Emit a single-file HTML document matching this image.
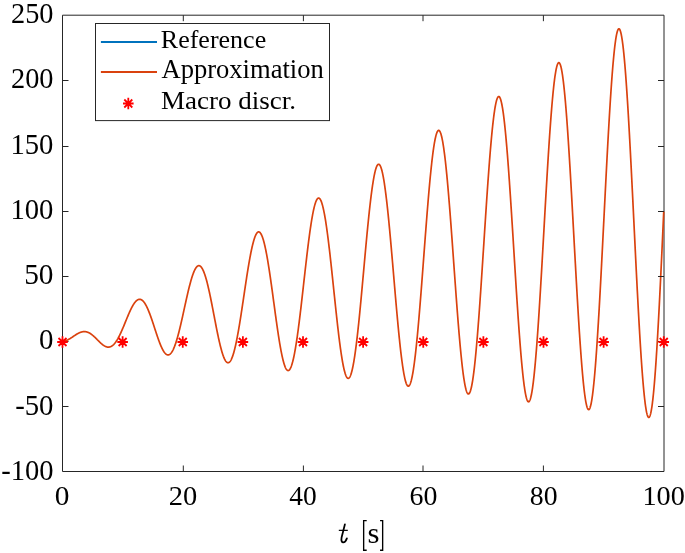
<!DOCTYPE html><html><head><meta charset="utf-8"><style>html,body{margin:0;padding:0;background:#fff;overflow:hidden}svg{display:block;will-change:transform}text{font-family:"Liberation Serif",serif;fill:#000}</style></head><body>
<svg width="685" height="553" viewBox="0 0 685 553">
<rect width="685" height="553" fill="#fff"/>
<path d="M62.5,15.2H664.0V471.5H62.5Z" stroke="#262626" stroke-width="1.00" fill="none"/>
<path d="M62.50,341.71 L62.70,341.67 L62.90,341.64 L63.10,341.60 L63.30,341.55 L63.50,341.51 L63.70,341.46 L63.90,341.41 L64.10,341.35 L64.30,341.29 L64.50,341.23 L64.70,341.17 L64.91,341.10 L65.11,341.04 L65.31,340.96 L65.51,340.89 L65.71,340.81 L65.91,340.73 L66.11,340.65 L66.31,340.56 L66.51,340.48 L66.71,340.39 L66.91,340.29 L67.11,340.20 L67.31,340.10 L67.51,340.00 L67.71,339.90 L67.91,339.80 L68.11,339.69 L68.31,339.58 L68.51,339.47 L68.71,339.36 L68.91,339.25 L69.11,339.13 L69.31,339.01 L69.51,338.89 L69.72,338.77 L69.92,338.65 L70.12,338.53 L70.32,338.40 L70.52,338.27 L70.72,338.15 L70.92,338.02 L71.12,337.89 L71.32,337.76 L71.52,337.63 L71.72,337.49 L71.92,337.36 L72.12,337.23 L72.32,337.09 L72.52,336.96 L72.72,336.82 L72.92,336.69 L73.12,336.55 L73.32,336.42 L73.52,336.28 L73.72,336.15 L73.92,336.01 L74.12,335.88 L74.32,335.74 L74.53,335.61 L74.73,335.48 L74.93,335.34 L75.13,335.21 L75.33,335.08 L75.53,334.95 L75.73,334.82 L75.93,334.70 L76.13,334.57 L76.33,334.45 L76.53,334.32 L76.73,334.20 L76.93,334.08 L77.13,333.97 L77.33,333.85 L77.53,333.74 L77.73,333.62 L77.93,333.51 L78.13,333.41 L78.33,333.30 L78.53,333.20 L78.73,333.10 L78.93,333.00 L79.13,332.91 L79.34,332.81 L79.54,332.72 L79.74,332.64 L79.94,332.56 L80.14,332.48 L80.34,332.40 L80.54,332.32 L80.74,332.25 L80.94,332.19 L81.14,332.12 L81.34,332.06 L81.54,332.01 L81.74,331.95 L81.94,331.90 L82.14,331.86 L82.34,331.82 L82.54,331.78 L82.74,331.74 L82.94,331.71 L83.14,331.69 L83.34,331.67 L83.54,331.65 L83.74,331.63 L83.94,331.62 L84.14,331.62 L84.35,331.62 L84.55,331.62 L84.75,331.63 L84.95,331.64 L85.15,331.65 L85.35,331.67 L85.55,331.70 L85.75,331.73 L85.95,331.76 L86.15,331.80 L86.35,331.84 L86.55,331.89 L86.75,331.94 L86.95,331.99 L87.15,332.05 L87.35,332.12 L87.55,332.19 L87.75,332.26 L87.95,332.33 L88.15,332.42 L88.35,332.50 L88.55,332.59 L88.75,332.68 L88.95,332.78 L89.16,332.88 L89.36,332.99 L89.56,333.10 L89.76,333.21 L89.96,333.33 L90.16,333.45 L90.36,333.58 L90.56,333.71 L90.76,333.84 L90.96,333.98 L91.16,334.12 L91.36,334.26 L91.56,334.41 L91.76,334.56 L91.96,334.72 L92.16,334.87 L92.36,335.03 L92.56,335.20 L92.76,335.36 L92.96,335.53 L93.16,335.70 L93.36,335.88 L93.56,336.05 L93.77,336.23 L93.97,336.41 L94.17,336.60 L94.37,336.78 L94.57,336.97 L94.77,337.16 L94.97,337.35 L95.17,337.54 L95.37,337.74 L95.57,337.93 L95.77,338.13 L95.97,338.33 L96.17,338.53 L96.37,338.73 L96.57,338.93 L96.77,339.13 L96.97,339.33 L97.17,339.54 L97.37,339.74 L97.57,339.94 L97.77,340.14 L97.97,340.35 L98.17,340.55 L98.37,340.75 L98.58,340.95 L98.78,341.15 L98.98,341.35 L99.18,341.55 L99.38,341.75 L99.58,341.95 L99.78,342.14 L99.98,342.33 L100.18,342.52 L100.38,342.71 L100.58,342.90 L100.78,343.09 L100.98,343.27 L101.18,343.45 L101.38,343.63 L101.58,343.80 L101.78,343.97 L101.98,344.14 L102.18,344.31 L102.38,344.47 L102.58,344.63 L102.78,344.79 L102.98,344.94 L103.18,345.08 L103.38,345.23 L103.59,345.37 L103.79,345.50 L103.99,345.63 L104.19,345.76 L104.39,345.88 L104.59,346.00 L104.79,346.11 L104.99,346.21 L105.19,346.32 L105.39,346.41 L105.59,346.50 L105.79,346.59 L105.99,346.66 L106.19,346.74 L106.39,346.80 L106.59,346.87 L106.79,346.92 L106.99,346.97 L107.19,347.01 L107.39,347.05 L107.59,347.08 L107.79,347.10 L107.99,347.12 L108.19,347.13 L108.40,347.13 L108.60,347.12 L108.80,347.11 L109.00,347.09 L109.20,347.07 L109.40,347.03 L109.60,346.99 L109.80,346.94 L110.00,346.89 L110.20,346.82 L110.40,346.75 L110.60,346.68 L110.80,346.59 L111.00,346.50 L111.20,346.40 L111.40,346.29 L111.60,346.17 L111.80,346.04 L112.00,345.91 L112.20,345.77 L112.40,345.62 L112.60,345.47 L112.80,345.30 L113.00,345.13 L113.21,344.95 L113.41,344.76 L113.61,344.57 L113.81,344.37 L114.01,344.16 L114.21,343.94 L114.41,343.71 L114.61,343.48 L114.81,343.23 L115.01,342.98 L115.21,342.73 L115.41,342.46 L115.61,342.19 L115.81,341.91 L116.01,341.62 L116.21,341.33 L116.41,341.03 L116.61,340.72 L116.81,340.40 L117.01,340.08 L117.21,339.75 L117.41,339.42 L117.61,339.07 L117.81,338.72 L118.02,338.37 L118.22,338.01 L118.42,337.64 L118.62,337.26 L118.82,336.88 L119.02,336.49 L119.22,336.10 L119.42,335.70 L119.62,335.30 L119.82,334.89 L120.02,334.48 L120.22,334.06 L120.42,333.63 L120.62,333.20 L120.82,332.77 L121.02,332.33 L121.22,331.89 L121.42,331.44 L121.62,330.99 L121.82,330.53 L122.02,330.08 L122.22,329.61 L122.42,329.15 L122.62,328.68 L122.83,328.21 L123.03,327.74 L123.23,327.26 L123.43,326.78 L123.63,326.30 L123.83,325.82 L124.03,325.33 L124.23,324.85 L124.43,324.36 L124.63,323.87 L124.83,323.38 L125.03,322.89 L125.23,322.40 L125.43,321.91 L125.63,321.42 L125.83,320.93 L126.03,320.44 L126.23,319.95 L126.43,319.46 L126.63,318.97 L126.83,318.48 L127.03,318.00 L127.23,317.51 L127.44,317.03 L127.64,316.55 L127.84,316.07 L128.04,315.60 L128.24,315.13 L128.44,314.66 L128.64,314.19 L128.84,313.73 L129.04,313.27 L129.24,312.81 L129.44,312.36 L129.64,311.92 L129.84,311.47 L130.04,311.04 L130.24,310.60 L130.44,310.18 L130.64,309.75 L130.84,309.34 L131.04,308.93 L131.24,308.52 L131.44,308.12 L131.64,307.73 L131.84,307.35 L132.04,306.97 L132.25,306.60 L132.45,306.23 L132.65,305.88 L132.85,305.53 L133.05,305.19 L133.25,304.85 L133.45,304.53 L133.65,304.21 L133.85,303.90 L134.05,303.60 L134.25,303.31 L134.45,303.03 L134.65,302.76 L134.85,302.49 L135.05,302.24 L135.25,301.99 L135.45,301.76 L135.65,301.53 L135.85,301.32 L136.05,301.12 L136.25,300.92 L136.45,300.74 L136.65,300.56 L136.85,300.40 L137.06,300.25 L137.26,300.11 L137.46,299.98 L137.66,299.86 L137.86,299.75 L138.06,299.66 L138.26,299.57 L138.46,299.50 L138.66,299.44 L138.86,299.39 L139.06,299.35 L139.26,299.32 L139.46,299.31 L139.66,299.31 L139.86,299.32 L140.06,299.34 L140.26,299.37 L140.46,299.41 L140.66,299.47 L140.86,299.54 L141.06,299.62 L141.26,299.71 L141.46,299.82 L141.66,299.93 L141.87,300.06 L142.07,300.20 L142.27,300.36 L142.47,300.52 L142.67,300.70 L142.87,300.88 L143.07,301.08 L143.27,301.30 L143.47,301.52 L143.67,301.75 L143.87,302.00 L144.07,302.26 L144.27,302.53 L144.47,302.81 L144.67,303.10 L144.87,303.40 L145.07,303.72 L145.27,304.04 L145.47,304.38 L145.67,304.72 L145.87,305.08 L146.07,305.45 L146.27,305.82 L146.47,306.21 L146.68,306.61 L146.88,307.01 L147.08,307.43 L147.28,307.86 L147.48,308.29 L147.68,308.73 L147.88,309.19 L148.08,309.65 L148.28,310.12 L148.48,310.60 L148.68,311.08 L148.88,311.58 L149.08,312.08 L149.28,312.59 L149.48,313.11 L149.68,313.63 L149.88,314.16 L150.08,314.70 L150.28,315.24 L150.48,315.79 L150.68,316.35 L150.88,316.91 L151.08,317.47 L151.28,318.05 L151.49,318.62 L151.69,319.20 L151.89,319.79 L152.09,320.38 L152.29,320.97 L152.49,321.57 L152.69,322.17 L152.89,322.77 L153.09,323.37 L153.29,323.98 L153.49,324.59 L153.69,325.20 L153.89,325.82 L154.09,326.43 L154.29,327.04 L154.49,327.66 L154.69,328.27 L154.89,328.89 L155.09,329.51 L155.29,330.12 L155.49,330.73 L155.69,331.35 L155.89,331.96 L156.09,332.57 L156.30,333.17 L156.50,333.78 L156.70,334.38 L156.90,334.98 L157.10,335.57 L157.30,336.17 L157.50,336.75 L157.70,337.34 L157.90,337.91 L158.10,338.49 L158.30,339.06 L158.50,339.62 L158.70,340.18 L158.90,340.73 L159.10,341.27 L159.30,341.81 L159.50,342.34 L159.70,342.87 L159.90,343.38 L160.10,343.89 L160.30,344.39 L160.50,344.88 L160.70,345.36 L160.90,345.84 L161.10,346.30 L161.31,346.76 L161.51,347.20 L161.71,347.64 L161.91,348.06 L162.11,348.48 L162.31,348.88 L162.51,349.27 L162.71,349.65 L162.91,350.02 L163.11,350.38 L163.31,350.73 L163.51,351.06 L163.71,351.38 L163.91,351.69 L164.11,351.99 L164.31,352.27 L164.51,352.54 L164.71,352.79 L164.91,353.04 L165.11,353.26 L165.31,353.48 L165.51,353.68 L165.71,353.86 L165.91,354.03 L166.12,354.19 L166.32,354.33 L166.52,354.46 L166.72,354.57 L166.92,354.66 L167.12,354.75 L167.32,354.81 L167.52,354.86 L167.72,354.89 L167.92,354.91 L168.12,354.91 L168.32,354.90 L168.52,354.87 L168.72,354.83 L168.92,354.76 L169.12,354.69 L169.32,354.59 L169.52,354.48 L169.72,354.35 L169.92,354.21 L170.12,354.05 L170.32,353.87 L170.52,353.68 L170.73,353.47 L170.93,353.25 L171.13,353.01 L171.33,352.75 L171.53,352.47 L171.73,352.18 L171.93,351.88 L172.13,351.56 L172.33,351.22 L172.53,350.86 L172.73,350.49 L172.93,350.11 L173.13,349.70 L173.33,349.29 L173.53,348.85 L173.73,348.41 L173.93,347.94 L174.13,347.46 L174.33,346.97 L174.53,346.46 L174.73,345.94 L174.93,345.40 L175.13,344.85 L175.33,344.28 L175.54,343.70 L175.74,343.11 L175.94,342.50 L176.14,341.88 L176.34,341.25 L176.54,340.60 L176.74,339.94 L176.94,339.27 L177.14,338.59 L177.34,337.89 L177.54,337.19 L177.74,336.47 L177.94,335.74 L178.14,335.00 L178.34,334.25 L178.54,333.48 L178.74,332.71 L178.94,331.93 L179.14,331.14 L179.34,330.34 L179.54,329.53 L179.74,328.71 L179.94,327.89 L180.14,327.05 L180.35,326.21 L180.55,325.36 L180.75,324.51 L180.95,323.65 L181.15,322.78 L181.35,321.90 L181.55,321.02 L181.75,320.14 L181.95,319.25 L182.15,318.36 L182.35,317.46 L182.55,316.56 L182.75,315.65 L182.95,314.74 L183.15,313.83 L183.35,312.92 L183.55,312.01 L183.75,311.09 L183.95,310.18 L184.15,309.26 L184.35,308.34 L184.55,307.42 L184.75,306.51 L184.95,305.59 L185.16,304.68 L185.36,303.77 L185.56,302.86 L185.76,301.95 L185.96,301.04 L186.16,300.14 L186.36,299.24 L186.56,298.35 L186.76,297.46 L186.96,296.58 L187.16,295.70 L187.36,294.83 L187.56,293.96 L187.76,293.10 L187.96,292.25 L188.16,291.40 L188.36,290.56 L188.56,289.73 L188.76,288.91 L188.96,288.10 L189.16,287.29 L189.36,286.50 L189.56,285.71 L189.76,284.94 L189.97,284.18 L190.17,283.42 L190.37,282.68 L190.57,281.95 L190.77,281.23 L190.97,280.53 L191.17,279.84 L191.37,279.16 L191.57,278.49 L191.77,277.84 L191.97,277.20 L192.17,276.58 L192.37,275.97 L192.57,275.37 L192.77,274.79 L192.97,274.23 L193.17,273.68 L193.37,273.15 L193.57,272.64 L193.77,272.14 L193.97,271.66 L194.17,271.19 L194.37,270.74 L194.57,270.31 L194.78,269.90 L194.98,269.51 L195.18,269.13 L195.38,268.77 L195.58,268.44 L195.78,268.12 L195.98,267.81 L196.18,267.53 L196.38,267.27 L196.58,267.03 L196.78,266.80 L196.98,266.60 L197.18,266.42 L197.38,266.25 L197.58,266.11 L197.78,265.99 L197.98,265.88 L198.18,265.80 L198.38,265.74 L198.58,265.70 L198.78,265.68 L198.98,265.68 L199.18,265.70 L199.38,265.74 L199.59,265.80 L199.79,265.89 L199.99,265.99 L200.19,266.12 L200.39,266.26 L200.59,266.43 L200.79,266.62 L200.99,266.82 L201.19,267.05 L201.39,267.30 L201.59,267.57 L201.79,267.86 L201.99,268.17 L202.19,268.50 L202.39,268.85 L202.59,269.22 L202.79,269.61 L202.99,270.03 L203.19,270.46 L203.39,270.90 L203.59,271.37 L203.79,271.86 L203.99,272.37 L204.19,272.89 L204.40,273.44 L204.60,274.00 L204.80,274.58 L205.00,275.18 L205.20,275.79 L205.40,276.43 L205.60,277.08 L205.80,277.75 L206.00,278.43 L206.20,279.13 L206.40,279.85 L206.60,280.58 L206.80,281.33 L207.00,282.09 L207.20,282.86 L207.40,283.66 L207.60,284.46 L207.80,285.28 L208.00,286.12 L208.20,286.96 L208.40,287.82 L208.60,288.69 L208.80,289.58 L209.00,290.47 L209.20,291.38 L209.41,292.29 L209.61,293.22 L209.81,294.16 L210.01,295.11 L210.21,296.06 L210.41,297.03 L210.61,298.00 L210.81,298.98 L211.01,299.97 L211.21,300.97 L211.41,301.97 L211.61,302.98 L211.81,304.00 L212.01,305.02 L212.21,306.04 L212.41,307.07 L212.61,308.10 L212.81,309.14 L213.01,310.18 L213.21,311.22 L213.41,312.26 L213.61,313.31 L213.81,314.35 L214.01,315.40 L214.22,316.45 L214.42,317.49 L214.62,318.54 L214.82,319.58 L215.02,320.62 L215.22,321.66 L215.42,322.70 L215.62,323.73 L215.82,324.76 L216.02,325.78 L216.22,326.80 L216.42,327.82 L216.62,328.83 L216.82,329.83 L217.02,330.83 L217.22,331.81 L217.42,332.79 L217.62,333.77 L217.82,334.73 L218.02,335.68 L218.22,336.63 L218.42,337.56 L218.62,338.49 L218.83,339.40 L219.03,340.30 L219.23,341.19 L219.43,342.07 L219.63,342.93 L219.83,343.79 L220.03,344.62 L220.23,345.45 L220.43,346.25 L220.63,347.05 L220.83,347.83 L221.03,348.59 L221.23,349.34 L221.43,350.07 L221.63,350.78 L221.83,351.47 L222.03,352.15 L222.23,352.81 L222.43,353.45 L222.63,354.08 L222.83,354.68 L223.03,355.26 L223.23,355.83 L223.43,356.37 L223.64,356.89 L223.84,357.40 L224.04,357.88 L224.24,358.34 L224.44,358.78 L224.64,359.20 L224.84,359.59 L225.04,359.96 L225.24,360.31 L225.44,360.64 L225.64,360.94 L225.84,361.22 L226.04,361.48 L226.24,361.71 L226.44,361.92 L226.64,362.11 L226.84,362.27 L227.04,362.41 L227.24,362.52 L227.44,362.61 L227.64,362.67 L227.84,362.71 L228.04,362.73 L228.24,362.71 L228.45,362.68 L228.65,362.62 L228.85,362.53 L229.05,362.42 L229.25,362.28 L229.45,362.12 L229.65,361.93 L229.85,361.71 L230.05,361.48 L230.25,361.21 L230.45,360.92 L230.65,360.61 L230.85,360.27 L231.05,359.91 L231.25,359.52 L231.45,359.10 L231.65,358.66 L231.85,358.20 L232.05,357.71 L232.25,357.20 L232.45,356.66 L232.65,356.10 L232.85,355.52 L233.05,354.91 L233.25,354.28 L233.46,353.62 L233.66,352.94 L233.86,352.24 L234.06,351.52 L234.26,350.77 L234.46,350.00 L234.66,349.21 L234.86,348.40 L235.06,347.57 L235.26,346.71 L235.46,345.84 L235.66,344.95 L235.86,344.03 L236.06,343.10 L236.26,342.14 L236.46,341.17 L236.66,340.18 L236.86,339.17 L237.06,338.14 L237.26,337.10 L237.46,336.03 L237.66,334.96 L237.86,333.86 L238.06,332.75 L238.27,331.63 L238.47,330.49 L238.67,329.33 L238.87,328.16 L239.07,326.98 L239.27,325.78 L239.47,324.58 L239.67,323.36 L239.87,322.13 L240.07,320.88 L240.27,319.63 L240.47,318.37 L240.67,317.09 L240.87,315.81 L241.07,314.52 L241.27,313.23 L241.47,311.92 L241.67,310.61 L241.87,309.29 L242.07,307.97 L242.27,306.64 L242.47,305.30 L242.67,303.96 L242.88,302.62 L243.08,301.28 L243.28,299.93 L243.48,298.58 L243.68,297.24 L243.88,295.89 L244.08,294.53 L244.28,293.19 L244.48,291.84 L244.68,290.49 L244.88,289.15 L245.08,287.80 L245.28,286.47 L245.48,285.13 L245.68,283.80 L245.88,282.48 L246.08,281.16 L246.28,279.85 L246.48,278.54 L246.68,277.24 L246.88,275.96 L247.08,274.67 L247.28,273.40 L247.48,272.14 L247.69,270.89 L247.89,269.65 L248.09,268.42 L248.29,267.20 L248.49,266.00 L248.69,264.81 L248.89,263.63 L249.09,262.46 L249.29,261.32 L249.49,260.18 L249.69,259.06 L249.89,257.96 L250.09,256.88 L250.29,255.81 L250.49,254.76 L250.69,253.73 L250.89,252.71 L251.09,251.72 L251.29,250.75 L251.49,249.79 L251.69,248.86 L251.89,247.95 L252.09,247.06 L252.29,246.19 L252.50,245.34 L252.70,244.51 L252.90,243.71 L253.10,242.94 L253.30,242.18 L253.50,241.45 L253.70,240.75 L253.90,240.07 L254.10,239.41 L254.30,238.78 L254.50,238.18 L254.70,237.60 L254.90,237.05 L255.10,236.52 L255.30,236.03 L255.50,235.55 L255.70,235.11 L255.90,234.70 L256.10,234.31 L256.30,233.95 L256.50,233.62 L256.70,233.32 L256.90,233.04 L257.10,232.80 L257.31,232.58 L257.51,232.40 L257.71,232.24 L257.91,232.11 L258.11,232.01 L258.31,231.95 L258.51,231.91 L258.71,231.90 L258.91,231.92 L259.11,231.97 L259.31,232.05 L259.51,232.16 L259.71,232.30 L259.91,232.47 L260.11,232.67 L260.31,232.90 L260.51,233.16 L260.71,233.44 L260.91,233.76 L261.11,234.11 L261.31,234.49 L261.51,234.89 L261.71,235.33 L261.91,235.79 L262.12,236.28 L262.32,236.80 L262.52,237.35 L262.72,237.93 L262.92,238.53 L263.12,239.17 L263.32,239.83 L263.52,240.51 L263.72,241.23 L263.92,241.97 L264.12,242.74 L264.32,243.53 L264.52,244.35 L264.72,245.19 L264.92,246.06 L265.12,246.95 L265.32,247.87 L265.52,248.81 L265.72,249.78 L265.92,250.77 L266.12,251.78 L266.32,252.81 L266.52,253.87 L266.72,254.95 L266.93,256.04 L267.13,257.16 L267.33,258.30 L267.53,259.46 L267.73,260.64 L267.93,261.83 L268.13,263.04 L268.33,264.28 L268.53,265.52 L268.73,266.79 L268.93,268.07 L269.13,269.36 L269.33,270.68 L269.53,272.00 L269.73,273.34 L269.93,274.69 L270.13,276.05 L270.33,277.43 L270.53,278.82 L270.73,280.21 L270.93,281.62 L271.13,283.04 L271.33,284.46 L271.53,285.90 L271.74,287.34 L271.94,288.79 L272.14,290.24 L272.34,291.70 L272.54,293.17 L272.74,294.64 L272.94,296.11 L273.14,297.58 L273.34,299.06 L273.54,300.54 L273.74,302.02 L273.94,303.50 L274.14,304.98 L274.34,306.46 L274.54,307.94 L274.74,309.41 L274.94,310.89 L275.14,312.35 L275.34,313.82 L275.54,315.27 L275.74,316.73 L275.94,318.17 L276.14,319.61 L276.34,321.04 L276.55,322.46 L276.75,323.88 L276.95,325.28 L277.15,326.67 L277.35,328.05 L277.55,329.42 L277.75,330.78 L277.95,332.12 L278.15,333.45 L278.35,334.77 L278.55,336.07 L278.75,337.36 L278.95,338.63 L279.15,339.88 L279.35,341.11 L279.55,342.33 L279.75,343.53 L279.95,344.71 L280.15,345.86 L280.35,347.00 L280.55,348.12 L280.75,349.22 L280.95,350.29 L281.15,351.34 L281.36,352.37 L281.56,353.37 L281.76,354.35 L281.96,355.31 L282.16,356.24 L282.36,357.15 L282.56,358.03 L282.76,358.88 L282.96,359.70 L283.16,360.50 L283.36,361.27 L283.56,362.01 L283.76,362.73 L283.96,363.41 L284.16,364.07 L284.36,364.69 L284.56,365.29 L284.76,365.85 L284.96,366.39 L285.16,366.89 L285.36,367.36 L285.56,367.80 L285.76,368.21 L285.96,368.59 L286.17,368.93 L286.37,369.24 L286.57,369.52 L286.77,369.76 L286.97,369.97 L287.17,370.15 L287.37,370.30 L287.57,370.41 L287.77,370.49 L287.97,370.53 L288.17,370.54 L288.37,370.51 L288.57,370.45 L288.77,370.36 L288.97,370.23 L289.17,370.07 L289.37,369.87 L289.57,369.64 L289.77,369.38 L289.97,369.08 L290.17,368.74 L290.37,368.37 L290.57,367.97 L290.77,367.54 L290.98,367.07 L291.18,366.56 L291.38,366.03 L291.58,365.46 L291.78,364.85 L291.98,364.21 L292.18,363.54 L292.38,362.84 L292.58,362.11 L292.78,361.34 L292.98,360.54 L293.18,359.71 L293.38,358.85 L293.58,357.96 L293.78,357.03 L293.98,356.08 L294.18,355.09 L294.38,354.08 L294.58,353.04 L294.78,351.96 L294.98,350.86 L295.18,349.74 L295.38,348.58 L295.58,347.40 L295.78,346.19 L295.99,344.95 L296.19,343.69 L296.39,342.40 L296.59,341.09 L296.79,339.75 L296.99,338.39 L297.19,337.01 L297.39,335.60 L297.59,334.18 L297.79,332.73 L297.99,331.26 L298.19,329.77 L298.39,328.26 L298.59,326.73 L298.79,325.18 L298.99,323.61 L299.19,322.03 L299.39,320.43 L299.59,318.81 L299.79,317.18 L299.99,315.54 L300.19,313.88 L300.39,312.21 L300.60,310.52 L300.80,308.83 L301.00,307.12 L301.20,305.40 L301.40,303.67 L301.60,301.94 L301.80,300.19 L302.00,298.44 L302.20,296.68 L302.40,294.92 L302.60,293.15 L302.80,291.37 L303.00,289.60 L303.20,287.81 L303.40,286.03 L303.60,284.25 L303.80,282.46 L304.00,280.68 L304.20,278.89 L304.40,277.11 L304.60,275.33 L304.80,273.56 L305.00,271.78 L305.20,270.02 L305.40,268.25 L305.61,266.50 L305.81,264.75 L306.01,263.01 L306.21,261.28 L306.41,259.55 L306.61,257.84 L306.81,256.14 L307.01,254.45 L307.21,252.77 L307.41,251.11 L307.61,249.45 L307.81,247.82 L308.01,246.20 L308.21,244.59 L308.41,243.00 L308.61,241.43 L308.81,239.88 L309.01,238.35 L309.21,236.83 L309.41,235.34 L309.61,233.87 L309.81,232.41 L310.01,230.99 L310.22,229.58 L310.42,228.20 L310.62,226.84 L310.82,225.50 L311.02,224.19 L311.22,222.91 L311.42,221.66 L311.62,220.43 L311.82,219.23 L312.02,218.05 L312.22,216.91 L312.42,215.79 L312.62,214.71 L312.82,213.66 L313.02,212.63 L313.22,211.64 L313.42,210.68 L313.62,209.75 L313.82,208.86 L314.02,207.99 L314.22,207.16 L314.42,206.37 L314.62,205.61 L314.82,204.88 L315.02,204.19 L315.23,203.54 L315.43,202.92 L315.63,202.34 L315.83,201.79 L316.03,201.28 L316.23,200.80 L316.43,200.37 L316.63,199.97 L316.83,199.61 L317.03,199.28 L317.23,199.00 L317.43,198.75 L317.63,198.54 L317.83,198.37 L318.03,198.24 L318.23,198.15 L318.43,198.09 L318.63,198.07 L318.83,198.10 L319.03,198.16 L319.23,198.26 L319.43,198.40 L319.63,198.58 L319.83,198.79 L320.04,199.05 L320.24,199.34 L320.44,199.68 L320.64,200.05 L320.84,200.46 L321.04,200.91 L321.24,201.39 L321.44,201.92 L321.64,202.48 L321.84,203.08 L322.04,203.72 L322.24,204.39 L322.44,205.10 L322.64,205.85 L322.84,206.63 L323.04,207.45 L323.24,208.31 L323.44,209.20 L323.64,210.12 L323.84,211.08 L324.04,212.07 L324.24,213.10 L324.44,214.16 L324.65,215.26 L324.85,216.38 L325.05,217.54 L325.25,218.73 L325.45,219.95 L325.65,221.20 L325.85,222.48 L326.05,223.79 L326.25,225.13 L326.45,226.50 L326.65,227.89 L326.85,229.31 L327.05,230.76 L327.25,232.24 L327.45,233.74 L327.65,235.26 L327.85,236.81 L328.05,238.38 L328.25,239.97 L328.45,241.59 L328.65,243.23 L328.85,244.88 L329.05,246.56 L329.25,248.26 L329.45,249.97 L329.66,251.71 L329.86,253.45 L330.06,255.22 L330.26,257.00 L330.46,258.80 L330.66,260.60 L330.86,262.43 L331.06,264.26 L331.26,266.10 L331.46,267.96 L331.66,269.82 L331.86,271.70 L332.06,273.58 L332.26,275.47 L332.46,277.37 L332.66,279.27 L332.86,281.17 L333.06,283.08 L333.26,284.99 L333.46,286.91 L333.66,288.82 L333.86,290.74 L334.06,292.65 L334.27,294.57 L334.47,296.48 L334.67,298.39 L334.87,300.29 L335.07,302.19 L335.27,304.09 L335.47,305.97 L335.67,307.85 L335.87,309.72 L336.07,311.59 L336.27,313.44 L336.47,315.28 L336.67,317.11 L336.87,318.93 L337.07,320.73 L337.27,322.52 L337.47,324.29 L337.67,326.05 L337.87,327.79 L338.07,329.52 L338.27,331.22 L338.47,332.91 L338.67,334.58 L338.87,336.23 L339.07,337.85 L339.28,339.45 L339.48,341.03 L339.68,342.59 L339.88,344.12 L340.08,345.63 L340.28,347.11 L340.48,348.56 L340.68,349.98 L340.88,351.38 L341.08,352.75 L341.28,354.09 L341.48,355.40 L341.68,356.68 L341.88,357.93 L342.08,359.15 L342.28,360.33 L342.48,361.48 L342.68,362.60 L342.88,363.68 L343.08,364.73 L343.28,365.74 L343.48,366.72 L343.68,367.66 L343.88,368.56 L344.09,369.43 L344.29,370.26 L344.49,371.05 L344.69,371.80 L344.89,372.51 L345.09,373.18 L345.29,373.82 L345.49,374.41 L345.69,374.96 L345.89,375.48 L346.09,375.95 L346.29,376.38 L346.49,376.77 L346.69,377.11 L346.89,377.42 L347.09,377.68 L347.29,377.90 L347.49,378.07 L347.69,378.21 L347.89,378.30 L348.09,378.35 L348.29,378.35 L348.49,378.31 L348.69,378.23 L348.90,378.10 L349.10,377.93 L349.30,377.72 L349.50,377.47 L349.70,377.17 L349.90,376.82 L350.10,376.44 L350.30,376.01 L350.50,375.54 L350.70,375.02 L350.90,374.46 L351.10,373.86 L351.30,373.22 L351.50,372.54 L351.70,371.81 L351.90,371.04 L352.10,370.23 L352.30,369.38 L352.50,368.48 L352.70,367.55 L352.90,366.58 L353.10,365.56 L353.30,364.51 L353.50,363.42 L353.71,362.29 L353.91,361.12 L354.11,359.91 L354.31,358.67 L354.51,357.39 L354.71,356.07 L354.91,354.72 L355.11,353.33 L355.31,351.90 L355.51,350.45 L355.71,348.95 L355.91,347.43 L356.11,345.87 L356.31,344.28 L356.51,342.66 L356.71,341.01 L356.91,339.33 L357.11,337.62 L357.31,335.88 L357.51,334.11 L357.71,332.32 L357.91,330.50 L358.11,328.65 L358.31,326.78 L358.52,324.88 L358.72,322.97 L358.92,321.02 L359.12,319.06 L359.32,317.08 L359.52,315.07 L359.72,313.05 L359.92,311.01 L360.12,308.95 L360.32,306.88 L360.52,304.78 L360.72,302.68 L360.92,300.56 L361.12,298.42 L361.32,296.28 L361.52,294.12 L361.72,291.95 L361.92,289.78 L362.12,287.59 L362.32,285.40 L362.52,283.20 L362.72,280.99 L362.92,278.78 L363.12,276.57 L363.33,274.35 L363.53,272.13 L363.73,269.91 L363.93,267.69 L364.13,265.47 L364.33,263.25 L364.53,261.04 L364.73,258.83 L364.93,256.62 L365.13,254.42 L365.33,252.23 L365.53,250.04 L365.73,247.86 L365.93,245.70 L366.13,243.54 L366.33,241.39 L366.53,239.26 L366.73,237.14 L366.93,235.03 L367.13,232.94 L367.33,230.87 L367.53,228.81 L367.73,226.77 L367.94,224.75 L368.14,222.75 L368.34,220.76 L368.54,218.81 L368.74,216.87 L368.94,214.95 L369.14,213.07 L369.34,211.20 L369.54,209.36 L369.74,207.55 L369.94,205.76 L370.14,204.01 L370.34,202.28 L370.54,200.58 L370.74,198.91 L370.94,197.28 L371.14,195.67 L371.34,194.10 L371.54,192.57 L371.74,191.06 L371.94,189.59 L372.14,188.16 L372.34,186.76 L372.54,185.40 L372.75,184.08 L372.95,182.80 L373.15,181.55 L373.35,180.34 L373.55,179.18 L373.75,178.05 L373.95,176.97 L374.15,175.92 L374.35,174.92 L374.55,173.96 L374.75,173.04 L374.95,172.17 L375.15,171.34 L375.35,170.55 L375.55,169.81 L375.75,169.12 L375.95,168.46 L376.15,167.86 L376.35,167.30 L376.55,166.79 L376.75,166.32 L376.95,165.90 L377.15,165.52 L377.35,165.20 L377.56,164.92 L377.76,164.69 L377.96,164.50 L378.16,164.36 L378.36,164.28 L378.56,164.23 L378.76,164.24 L378.96,164.30 L379.16,164.40 L379.36,164.55 L379.56,164.75 L379.76,164.99 L379.96,165.29 L380.16,165.63 L380.36,166.02 L380.56,166.46 L380.76,166.94 L380.96,167.48 L381.16,168.05 L381.36,168.68 L381.56,169.35 L381.76,170.07 L381.96,170.83 L382.16,171.65 L382.37,172.50 L382.57,173.40 L382.77,174.35 L382.97,175.34 L383.17,176.37 L383.37,177.45 L383.57,178.57 L383.77,179.73 L383.97,180.94 L384.17,182.18 L384.37,183.47 L384.57,184.80 L384.77,186.17 L384.97,187.57 L385.17,189.02 L385.37,190.51 L385.57,192.03 L385.77,193.59 L385.97,195.18 L386.17,196.81 L386.37,198.48 L386.57,200.18 L386.77,201.92 L386.97,203.68 L387.18,205.48 L387.38,207.31 L387.58,209.17 L387.78,211.06 L387.98,212.98 L388.18,214.93 L388.38,216.90 L388.58,218.90 L388.78,220.93 L388.98,222.98 L389.18,225.05 L389.38,227.15 L389.58,229.27 L389.78,231.41 L389.98,233.57 L390.18,235.75 L390.38,237.95 L390.58,240.16 L390.78,242.39 L390.98,244.64 L391.18,246.90 L391.38,249.17 L391.58,251.45 L391.78,253.75 L391.99,256.06 L392.19,258.37 L392.39,260.70 L392.59,263.03 L392.79,265.36 L392.99,267.71 L393.19,270.05 L393.39,272.40 L393.59,274.75 L393.79,277.10 L393.99,279.45 L394.19,281.80 L394.39,284.15 L394.59,286.50 L394.79,288.84 L394.99,291.17 L395.19,293.50 L395.39,295.82 L395.59,298.13 L395.79,300.43 L395.99,302.72 L396.19,305.00 L396.39,307.27 L396.59,309.52 L396.80,311.75 L397.00,313.98 L397.20,316.18 L397.40,318.37 L397.60,320.53 L397.80,322.68 L398.00,324.81 L398.20,326.91 L398.40,329.00 L398.60,331.05 L398.80,333.09 L399.00,335.09 L399.20,337.07 L399.40,339.03 L399.60,340.95 L399.80,342.85 L400.00,344.71 L400.20,346.55 L400.40,348.35 L400.60,350.12 L400.80,351.85 L401.00,353.55 L401.20,355.22 L401.40,356.84 L401.61,358.44 L401.81,359.99 L402.01,361.51 L402.21,362.98 L402.41,364.42 L402.61,365.81 L402.81,367.17 L403.01,368.48 L403.21,369.75 L403.41,370.98 L403.61,372.16 L403.81,373.30 L404.01,374.39 L404.21,375.44 L404.41,376.44 L404.61,377.40 L404.81,378.31 L405.01,379.17 L405.21,379.98 L405.41,380.74 L405.61,381.46 L405.81,382.13 L406.01,382.74 L406.21,383.31 L406.42,383.83 L406.62,384.29 L406.82,384.71 L407.02,385.07 L407.22,385.38 L407.42,385.64 L407.62,385.85 L407.82,386.01 L408.02,386.11 L408.22,386.16 L408.42,386.16 L408.62,386.11 L408.82,386.01 L409.02,385.85 L409.22,385.64 L409.42,385.37 L409.62,385.06 L409.82,384.69 L410.02,384.27 L410.22,383.80 L410.42,383.28 L410.62,382.70 L410.82,382.07 L411.02,381.39 L411.23,380.66 L411.43,379.88 L411.63,379.05 L411.83,378.16 L412.03,377.23 L412.23,376.24 L412.43,375.21 L412.63,374.13 L412.83,373.00 L413.03,371.82 L413.23,370.59 L413.43,369.31 L413.63,367.99 L413.83,366.62 L414.03,365.21 L414.23,363.75 L414.43,362.24 L414.63,360.70 L414.83,359.10 L415.03,357.47 L415.23,355.79 L415.43,354.07 L415.63,352.31 L415.83,350.51 L416.03,348.67 L416.24,346.79 L416.44,344.87 L416.64,342.92 L416.84,340.93 L417.04,338.90 L417.24,336.84 L417.44,334.75 L417.64,332.62 L417.84,330.46 L418.04,328.27 L418.24,326.04 L418.44,323.79 L418.64,321.51 L418.84,319.21 L419.04,316.87 L419.24,314.51 L419.44,312.13 L419.64,309.72 L419.84,307.29 L420.04,304.84 L420.24,302.36 L420.44,299.87 L420.64,297.36 L420.85,294.83 L421.05,292.29 L421.25,289.73 L421.45,287.16 L421.65,284.57 L421.85,281.97 L422.05,279.36 L422.25,276.74 L422.45,274.11 L422.65,271.48 L422.85,268.84 L423.05,266.19 L423.25,263.54 L423.45,260.88 L423.65,258.23 L423.85,255.57 L424.05,252.92 L424.25,250.26 L424.45,247.61 L424.65,244.96 L424.85,242.32 L425.05,239.69 L425.25,237.06 L425.45,234.44 L425.66,231.83 L425.86,229.23 L426.06,226.64 L426.26,224.07 L426.46,221.51 L426.66,218.96 L426.86,216.44 L427.06,213.92 L427.26,211.43 L427.46,208.96 L427.66,206.51 L427.86,204.08 L428.06,201.68 L428.26,199.29 L428.46,196.94 L428.66,194.61 L428.86,192.30 L429.06,190.03 L429.26,187.78 L429.46,185.57 L429.66,183.38 L429.86,181.23 L430.06,179.12 L430.26,177.03 L430.47,174.98 L430.67,172.97 L430.87,170.99 L431.07,169.05 L431.27,167.15 L431.47,165.29 L431.67,163.48 L431.87,161.70 L432.07,159.96 L432.27,158.27 L432.47,156.62 L432.67,155.01 L432.87,153.45 L433.07,151.94 L433.27,150.47 L433.47,149.05 L433.67,147.68 L433.87,146.35 L434.07,145.08 L434.27,143.85 L434.47,142.67 L434.67,141.55 L434.87,140.48 L435.07,139.45 L435.28,138.49 L435.48,137.57 L435.68,136.71 L435.88,135.90 L436.08,135.14 L436.28,134.44 L436.48,133.79 L436.68,133.20 L436.88,132.67 L437.08,132.19 L437.28,131.76 L437.48,131.40 L437.68,131.08 L437.88,130.83 L438.08,130.63 L438.28,130.49 L438.48,130.41 L438.68,130.38 L438.88,130.41 L439.08,130.49 L439.28,130.64 L439.48,130.84 L439.68,131.10 L439.88,131.41 L440.08,131.78 L440.29,132.21 L440.49,132.70 L440.69,133.24 L440.89,133.84 L441.09,134.49 L441.29,135.20 L441.49,135.96 L441.69,136.78 L441.89,137.66 L442.09,138.59 L442.29,139.57 L442.49,140.61 L442.69,141.70 L442.89,142.84 L443.09,144.04 L443.29,145.29 L443.49,146.59 L443.69,147.94 L443.89,149.34 L444.09,150.79 L444.29,152.29 L444.49,153.84 L444.69,155.43 L444.90,157.08 L445.10,158.76 L445.30,160.50 L445.50,162.28 L445.70,164.11 L445.90,165.97 L446.10,167.88 L446.30,169.84 L446.50,171.83 L446.70,173.86 L446.90,175.94 L447.10,178.05 L447.30,180.20 L447.50,182.39 L447.70,184.61 L447.90,186.86 L448.10,189.15 L448.30,191.48 L448.50,193.83 L448.70,196.22 L448.90,198.63 L449.10,201.08 L449.30,203.55 L449.50,206.05 L449.71,208.57 L449.91,211.12 L450.11,213.69 L450.31,216.28 L450.51,218.89 L450.71,221.53 L450.91,224.18 L451.11,226.85 L451.31,229.53 L451.51,232.23 L451.71,234.95 L451.91,237.68 L452.11,240.42 L452.31,243.17 L452.51,245.92 L452.71,248.69 L452.91,251.46 L453.11,254.24 L453.31,257.02 L453.51,259.81 L453.71,262.60 L453.91,265.38 L454.11,268.17 L454.31,270.95 L454.52,273.74 L454.72,276.51 L454.92,279.28 L455.12,282.05 L455.32,284.80 L455.52,287.55 L455.72,290.28 L455.92,293.01 L456.12,295.72 L456.32,298.41 L456.52,301.09 L456.72,303.76 L456.92,306.40 L457.12,309.03 L457.32,311.63 L457.52,314.21 L457.72,316.77 L457.92,319.31 L458.12,321.82 L458.32,324.31 L458.52,326.77 L458.72,329.19 L458.92,331.59 L459.12,333.96 L459.32,336.30 L459.53,338.60 L459.73,340.87 L459.93,343.11 L460.13,345.30 L460.33,347.46 L460.53,349.59 L460.73,351.67 L460.93,353.72 L461.13,355.72 L461.33,357.68 L461.53,359.60 L461.73,361.47 L461.93,363.30 L462.13,365.08 L462.33,366.82 L462.53,368.51 L462.73,370.15 L462.93,371.74 L463.13,373.28 L463.33,374.78 L463.53,376.22 L463.73,377.61 L463.93,378.94 L464.13,380.23 L464.34,381.46 L464.54,382.63 L464.74,383.75 L464.94,384.82 L465.14,385.83 L465.34,386.78 L465.54,387.67 L465.74,388.51 L465.94,389.29 L466.14,390.01 L466.34,390.67 L466.54,391.27 L466.74,391.82 L466.94,392.30 L467.14,392.72 L467.34,393.08 L467.54,393.38 L467.74,393.63 L467.94,393.81 L468.14,393.92 L468.34,393.98 L468.54,393.98 L468.74,393.91 L468.94,393.78 L469.15,393.59 L469.35,393.34 L469.55,393.03 L469.75,392.65 L469.95,392.22 L470.15,391.72 L470.35,391.16 L470.55,390.54 L470.75,389.86 L470.95,389.12 L471.15,388.32 L471.35,387.46 L471.55,386.54 L471.75,385.55 L471.95,384.51 L472.15,383.42 L472.35,382.26 L472.55,381.04 L472.75,379.77 L472.95,378.44 L473.15,377.06 L473.35,375.61 L473.55,374.12 L473.76,372.56 L473.96,370.96 L474.16,369.30 L474.36,367.59 L474.56,365.82 L474.76,364.00 L474.96,362.14 L475.16,360.22 L475.36,358.25 L475.56,356.24 L475.76,354.18 L475.96,352.07 L476.16,349.91 L476.36,347.71 L476.56,345.47 L476.76,343.18 L476.96,340.85 L477.16,338.48 L477.36,336.07 L477.56,333.61 L477.76,331.13 L477.96,328.60 L478.16,326.04 L478.36,323.44 L478.57,320.81 L478.77,318.14 L478.97,315.45 L479.17,312.72 L479.37,309.96 L479.57,307.18 L479.77,304.37 L479.97,301.53 L480.17,298.66 L480.37,295.78 L480.57,292.87 L480.77,289.94 L480.97,286.99 L481.17,284.02 L481.37,281.03 L481.57,278.03 L481.77,275.02 L481.97,271.99 L482.17,268.94 L482.37,265.89 L482.57,262.83 L482.77,259.76 L482.97,256.68 L483.17,253.60 L483.38,250.51 L483.58,247.42 L483.78,244.33 L483.98,241.23 L484.18,238.14 L484.38,235.05 L484.58,231.97 L484.78,228.89 L484.98,225.82 L485.18,222.75 L485.38,219.70 L485.58,216.65 L485.78,213.62 L485.98,210.59 L486.18,207.59 L486.38,204.60 L486.58,201.62 L486.78,198.67 L486.98,195.73 L487.18,192.82 L487.38,189.93 L487.58,187.06 L487.78,184.21 L487.98,181.40 L488.19,178.60 L488.39,175.84 L488.59,173.11 L488.79,170.41 L488.99,167.74 L489.19,165.10 L489.39,162.50 L489.59,159.94 L489.79,157.41 L489.99,154.92 L490.19,152.47 L490.39,150.05 L490.59,147.68 L490.79,145.36 L490.99,143.07 L491.19,140.83 L491.39,138.63 L491.59,136.49 L491.79,134.38 L491.99,132.33 L492.19,130.33 L492.39,128.37 L492.59,126.47 L492.79,124.62 L493.00,122.82 L493.20,121.08 L493.40,119.39 L493.60,117.75 L493.80,116.17 L494.00,114.65 L494.20,113.18 L494.40,111.78 L494.60,110.43 L494.80,109.14 L495.00,107.91 L495.20,106.74 L495.40,105.63 L495.60,104.58 L495.80,103.60 L496.00,102.68 L496.20,101.82 L496.40,101.02 L496.60,100.29 L496.80,99.62 L497.00,99.02 L497.20,98.48 L497.40,98.00 L497.60,97.59 L497.81,97.25 L498.01,96.97 L498.21,96.76 L498.41,96.62 L498.61,96.54 L498.81,96.52 L499.01,96.57 L499.21,96.69 L499.41,96.88 L499.61,97.13 L499.81,97.45 L500.01,97.83 L500.21,98.28 L500.41,98.79 L500.61,99.37 L500.81,100.02 L501.01,100.73 L501.21,101.51 L501.41,102.35 L501.61,103.25 L501.81,104.22 L502.01,105.25 L502.21,106.34 L502.41,107.50 L502.62,108.72 L502.82,110.00 L503.02,111.34 L503.22,112.74 L503.42,114.21 L503.62,115.73 L503.82,117.31 L504.02,118.95 L504.22,120.64 L504.42,122.40 L504.62,124.20 L504.82,126.07 L505.02,127.98 L505.22,129.96 L505.42,131.98 L505.62,134.06 L505.82,136.18 L506.02,138.36 L506.22,140.59 L506.42,142.86 L506.62,145.18 L506.82,147.55 L507.02,149.96 L507.22,152.42 L507.43,154.92 L507.63,157.46 L507.83,160.04 L508.03,162.67 L508.23,165.33 L508.43,168.03 L508.63,170.76 L508.83,173.53 L509.03,176.33 L509.23,179.17 L509.43,182.04 L509.63,184.94 L509.83,187.87 L510.03,190.82 L510.23,193.80 L510.43,196.81 L510.63,199.84 L510.83,202.89 L511.03,205.97 L511.23,209.06 L511.43,212.17 L511.63,215.30 L511.83,218.44 L512.03,221.60 L512.24,224.78 L512.44,227.96 L512.64,231.15 L512.84,234.35 L513.04,237.56 L513.24,240.78 L513.44,244.00 L513.64,247.22 L513.84,250.44 L514.04,253.66 L514.24,256.89 L514.44,260.10 L514.64,263.32 L514.84,266.53 L515.04,269.73 L515.24,272.92 L515.44,276.11 L515.64,279.28 L515.84,282.44 L516.04,285.58 L516.24,288.71 L516.44,291.83 L516.64,294.92 L516.84,297.99 L517.04,301.05 L517.25,304.07 L517.45,307.08 L517.65,310.06 L517.85,313.01 L518.05,315.94 L518.25,318.84 L518.45,321.70 L518.65,324.54 L518.85,327.34 L519.05,330.10 L519.25,332.83 L519.45,335.52 L519.65,338.18 L519.85,340.79 L520.05,343.36 L520.25,345.90 L520.45,348.38 L520.65,350.83 L520.85,353.23 L521.05,355.58 L521.25,357.88 L521.45,360.14 L521.65,362.35 L521.86,364.50 L522.06,366.61 L522.26,368.66 L522.46,370.65 L522.66,372.60 L522.86,374.48 L523.06,376.31 L523.26,378.09 L523.46,379.80 L523.66,381.46 L523.86,383.05 L524.06,384.59 L524.26,386.06 L524.46,387.47 L524.66,388.82 L524.86,390.11 L525.06,391.33 L525.26,392.48 L525.46,393.57 L525.66,394.60 L525.86,395.56 L526.06,396.45 L526.26,397.28 L526.46,398.03 L526.66,398.72 L526.87,399.34 L527.07,399.89 L527.27,400.37 L527.47,400.79 L527.67,401.13 L527.87,401.40 L528.07,401.60 L528.27,401.74 L528.47,401.80 L528.67,401.79 L528.87,401.71 L529.07,401.56 L529.27,401.34 L529.47,401.04 L529.67,400.68 L529.87,400.25 L530.07,399.74 L530.27,399.17 L530.47,398.52 L530.67,397.81 L530.87,397.02 L531.07,396.17 L531.27,395.25 L531.48,394.25 L531.68,393.19 L531.88,392.06 L532.08,390.87 L532.28,389.60 L532.48,388.27 L532.68,386.88 L532.88,385.41 L533.08,383.89 L533.28,382.29 L533.48,380.64 L533.68,378.92 L533.88,377.14 L534.08,375.29 L534.28,373.39 L534.48,371.42 L534.68,369.40 L534.88,367.31 L535.08,365.17 L535.28,362.97 L535.48,360.72 L535.68,358.41 L535.88,356.04 L536.08,353.62 L536.29,351.15 L536.49,348.63 L536.69,346.06 L536.89,343.44 L537.09,340.77 L537.29,338.05 L537.49,335.29 L537.69,332.48 L537.89,329.63 L538.09,326.74 L538.29,323.81 L538.49,320.83 L538.69,317.82 L538.89,314.77 L539.09,311.69 L539.29,308.57 L539.49,305.41 L539.69,302.23 L539.89,299.01 L540.09,295.76 L540.29,292.49 L540.49,289.19 L540.69,285.87 L540.89,282.52 L541.10,279.14 L541.30,275.75 L541.50,272.34 L541.70,268.91 L541.90,265.46 L542.10,262.00 L542.30,258.53 L542.50,255.04 L542.70,251.54 L542.90,248.04 L543.10,244.52 L543.30,241.00 L543.50,237.48 L543.70,233.95 L543.90,230.43 L544.10,226.90 L544.30,223.37 L544.50,219.85 L544.70,216.33 L544.90,212.82 L545.10,209.31 L545.30,205.82 L545.50,202.33 L545.70,198.86 L545.90,195.40 L546.11,191.96 L546.31,188.53 L546.51,185.13 L546.71,181.74 L546.91,178.37 L547.11,175.03 L547.31,171.71 L547.51,168.42 L547.71,165.15 L547.91,161.92 L548.11,158.71 L548.31,155.53 L548.51,152.39 L548.71,149.28 L548.91,146.21 L549.11,143.18 L549.31,140.18 L549.51,137.22 L549.71,134.31 L549.91,131.43 L550.11,128.60 L550.31,125.82 L550.51,123.08 L550.72,120.38 L550.92,117.74 L551.12,115.15 L551.32,112.61 L551.52,110.11 L551.72,107.68 L551.92,105.29 L552.12,102.97 L552.32,100.70 L552.52,98.48 L552.72,96.33 L552.92,94.23 L553.12,92.19 L553.32,90.22 L553.52,88.31 L553.72,86.46 L553.92,84.67 L554.12,82.95 L554.32,81.29 L554.52,79.71 L554.72,78.18 L554.92,76.73 L555.12,75.34 L555.32,74.02 L555.53,72.78 L555.73,71.60 L555.93,70.49 L556.13,69.46 L556.33,68.49 L556.53,67.60 L556.73,66.78 L556.93,66.04 L557.13,65.37 L557.33,64.77 L557.53,64.24 L557.73,63.79 L557.93,63.42 L558.13,63.12 L558.33,62.89 L558.53,62.74 L558.73,62.67 L558.93,62.67 L559.13,62.74 L559.33,62.89 L559.53,63.12 L559.73,63.42 L559.93,63.80 L560.13,64.25 L560.34,64.77 L560.54,65.37 L560.74,66.05 L560.94,66.80 L561.14,67.62 L561.34,68.52 L561.54,69.49 L561.74,70.54 L561.94,71.65 L562.14,72.84 L562.34,74.10 L562.54,75.43 L562.74,76.83 L562.94,78.30 L563.14,79.84 L563.34,81.45 L563.54,83.13 L563.74,84.87 L563.94,86.68 L564.14,88.56 L564.34,90.50 L564.54,92.50 L564.74,94.57 L564.94,96.70 L565.14,98.89 L565.35,101.15 L565.55,103.46 L565.75,105.83 L565.95,108.26 L566.15,110.75 L566.35,113.29 L566.55,115.88 L566.75,118.53 L566.95,121.23 L567.15,123.98 L567.35,126.79 L567.55,129.64 L567.75,132.53 L567.95,135.48 L568.15,138.47 L568.35,141.50 L568.55,144.57 L568.75,147.69 L568.95,150.84 L569.15,154.04 L569.35,157.27 L569.55,160.53 L569.75,163.83 L569.96,167.16 L570.16,170.53 L570.36,173.92 L570.56,177.34 L570.76,180.79 L570.96,184.26 L571.16,187.75 L571.36,191.27 L571.56,194.81 L571.76,198.37 L571.96,201.94 L572.16,205.53 L572.36,209.13 L572.56,212.75 L572.76,216.38 L572.96,220.02 L573.16,223.66 L573.36,227.31 L573.56,230.97 L573.76,234.62 L573.96,238.28 L574.16,241.94 L574.36,245.60 L574.56,249.26 L574.76,252.90 L574.97,256.55 L575.17,260.18 L575.37,263.80 L575.57,267.41 L575.77,271.01 L575.97,274.59 L576.17,278.16 L576.37,281.71 L576.57,285.24 L576.77,288.75 L576.97,292.23 L577.17,295.69 L577.37,299.12 L577.57,302.53 L577.77,305.91 L577.97,309.25 L578.17,312.57 L578.37,315.85 L578.57,319.10 L578.77,322.31 L578.97,325.48 L579.17,328.61 L579.37,331.70 L579.58,334.75 L579.78,337.75 L579.98,340.71 L580.18,343.62 L580.38,346.49 L580.58,349.30 L580.78,352.07 L580.98,354.78 L581.18,357.45 L581.38,360.05 L581.58,362.60 L581.78,365.10 L581.98,367.54 L582.18,369.91 L582.38,372.23 L582.58,374.49 L582.78,376.69 L582.98,378.82 L583.18,380.89 L583.38,382.89 L583.58,384.82 L583.78,386.69 L583.98,388.50 L584.18,390.23 L584.38,391.89 L584.59,393.49 L584.79,395.01 L584.99,396.46 L585.19,397.84 L585.39,399.14 L585.59,400.37 L585.79,401.53 L585.99,402.61 L586.19,403.61 L586.39,404.54 L586.59,405.39 L586.79,406.17 L586.99,406.87 L587.19,407.49 L587.39,408.03 L587.59,408.49 L587.79,408.87 L587.99,409.18 L588.19,409.40 L588.39,409.55 L588.59,409.61 L588.79,409.60 L588.99,409.51 L589.19,409.33 L589.40,409.08 L589.60,408.75 L589.80,408.33 L590.00,407.84 L590.20,407.27 L590.40,406.62 L590.60,405.88 L590.80,405.07 L591.00,404.19 L591.20,403.22 L591.40,402.17 L591.60,401.05 L591.80,399.85 L592.00,398.57 L592.20,397.22 L592.40,395.79 L592.60,394.29 L592.80,392.71 L593.00,391.06 L593.20,389.33 L593.40,387.53 L593.60,385.66 L593.80,383.72 L594.00,381.71 L594.21,379.63 L594.41,377.48 L594.61,375.26 L594.81,372.97 L595.01,370.62 L595.21,368.20 L595.41,365.72 L595.61,363.18 L595.81,360.57 L596.01,357.91 L596.21,355.18 L596.41,352.39 L596.61,349.55 L596.81,346.65 L597.01,343.70 L597.21,340.69 L597.41,337.63 L597.61,334.51 L597.81,331.35 L598.01,328.14 L598.21,324.88 L598.41,321.58 L598.61,318.23 L598.82,314.84 L599.02,311.40 L599.22,307.93 L599.42,304.41 L599.62,300.86 L599.82,297.28 L600.02,293.66 L600.22,290.00 L600.42,286.32 L600.62,282.60 L600.82,278.86 L601.02,275.09 L601.22,271.30 L601.42,267.48 L601.62,263.65 L601.82,259.79 L602.02,255.91 L602.22,252.02 L602.42,248.11 L602.62,244.19 L602.82,240.26 L603.02,236.32 L603.22,232.37 L603.42,228.41 L603.62,224.45 L603.83,220.49 L604.03,216.52 L604.23,212.56 L604.43,208.60 L604.63,204.64 L604.83,200.69 L605.03,196.74 L605.23,192.81 L605.43,188.88 L605.63,184.97 L605.83,181.07 L606.03,177.19 L606.23,173.33 L606.43,169.48 L606.63,165.66 L606.83,161.86 L607.03,158.08 L607.23,154.33 L607.43,150.60 L607.63,146.91 L607.83,143.25 L608.03,139.62 L608.23,136.02 L608.43,132.46 L608.64,128.94 L608.84,125.46 L609.04,122.01 L609.24,118.61 L609.44,115.25 L609.64,111.94 L609.84,108.67 L610.04,105.45 L610.24,102.29 L610.44,99.17 L610.64,96.10 L610.84,93.09 L611.04,90.13 L611.24,87.23 L611.44,84.38 L611.64,81.60 L611.84,78.87 L612.04,76.20 L612.24,73.60 L612.44,71.06 L612.64,68.59 L612.84,66.18 L613.04,63.84 L613.25,61.56 L613.45,59.36 L613.65,57.22 L613.85,55.16 L614.05,53.17 L614.25,51.25 L614.45,49.40 L614.65,47.63 L614.85,45.94 L615.05,44.32 L615.25,42.78 L615.45,41.31 L615.65,39.92 L615.85,38.62 L616.05,37.39 L616.25,36.24 L616.45,35.17 L616.65,34.18 L616.85,33.28 L617.05,32.46 L617.25,31.72 L617.45,31.06 L617.65,30.48 L617.85,29.99 L618.06,29.59 L618.26,29.26 L618.46,29.02 L618.66,28.87 L618.86,28.80 L619.06,28.81 L619.26,28.91 L619.46,29.09 L619.66,29.36 L619.86,29.71 L620.06,30.15 L620.26,30.67 L620.46,31.27 L620.66,31.96 L620.86,32.73 L621.06,33.58 L621.26,34.52 L621.46,35.54 L621.66,36.64 L621.86,37.82 L622.06,39.08 L622.26,40.43 L622.46,41.85 L622.66,43.36 L622.87,44.94 L623.07,46.60 L623.27,48.34 L623.47,50.15 L623.67,52.04 L623.87,54.01 L624.07,56.05 L624.27,58.16 L624.47,60.35 L624.67,62.61 L624.87,64.94 L625.07,67.34 L625.27,69.80 L625.47,72.34 L625.67,74.94 L625.87,77.61 L626.07,80.34 L626.27,83.13 L626.47,85.99 L626.67,88.91 L626.87,91.88 L627.07,94.92 L627.27,98.01 L627.47,101.15 L627.68,104.36 L627.88,107.61 L628.08,110.91 L628.28,114.27 L628.48,117.67 L628.68,121.12 L628.88,124.62 L629.08,128.16 L629.28,131.74 L629.48,135.36 L629.68,139.03 L629.88,142.73 L630.08,146.46 L630.28,150.23 L630.48,154.03 L630.68,157.87 L630.88,161.73 L631.08,165.62 L631.28,169.54 L631.48,173.48 L631.68,177.45 L631.88,181.43 L632.08,185.43 L632.28,189.46 L632.49,193.49 L632.69,197.54 L632.89,201.61 L633.09,205.68 L633.29,209.76 L633.49,213.85 L633.69,217.94 L633.89,222.03 L634.09,226.13 L634.29,230.22 L634.49,234.32 L634.69,238.41 L634.89,242.49 L635.09,246.56 L635.29,250.63 L635.49,254.68 L635.69,258.72 L635.89,262.74 L636.09,266.75 L636.29,270.74 L636.49,274.71 L636.69,278.65 L636.89,282.57 L637.09,286.47 L637.29,290.34 L637.50,294.17 L637.70,297.98 L637.90,301.76 L638.10,305.50 L638.30,309.20 L638.50,312.86 L638.70,316.49 L638.90,320.08 L639.10,323.62 L639.30,327.12 L639.50,330.57 L639.70,333.97 L639.90,337.33 L640.10,340.63 L640.30,343.88 L640.50,347.08 L640.70,350.22 L640.90,353.31 L641.10,356.34 L641.30,359.31 L641.50,362.22 L641.70,365.07 L641.90,367.85 L642.11,370.57 L642.31,373.22 L642.51,375.81 L642.71,378.33 L642.91,380.77 L643.11,383.15 L643.31,385.46 L643.51,387.69 L643.71,389.85 L643.91,391.93 L644.11,393.94 L644.31,395.87 L644.51,397.73 L644.71,399.50 L644.91,401.20 L645.11,402.81 L645.31,404.35 L645.51,405.80 L645.71,407.17 L645.91,408.45 L646.11,409.66 L646.31,410.78 L646.51,411.81 L646.71,412.76 L646.92,413.62 L647.12,414.39 L647.32,415.08 L647.52,415.68 L647.72,416.19 L647.92,416.62 L648.12,416.95 L648.32,417.20 L648.52,417.36 L648.72,417.43 L648.92,417.41 L649.12,417.31 L649.32,417.11 L649.52,416.82 L649.72,416.45 L649.92,415.99 L650.12,415.43 L650.32,414.79 L650.52,414.06 L650.72,413.25 L650.92,412.34 L651.12,411.35 L651.32,410.27 L651.52,409.10 L651.73,407.85 L651.93,406.51 L652.13,405.08 L652.33,403.57 L652.53,401.98 L652.73,400.30 L652.93,398.54 L653.13,396.70 L653.33,394.78 L653.53,392.77 L653.73,390.69 L653.93,388.52 L654.13,386.28 L654.33,383.96 L654.53,381.56 L654.73,379.09 L654.93,376.55 L655.13,373.93 L655.33,371.24 L655.53,368.47 L655.73,365.64 L655.93,362.74 L656.13,359.77 L656.33,356.74 L656.53,353.63 L656.74,350.47 L656.94,347.24 L657.14,343.96 L657.34,340.61 L657.54,337.20 L657.74,333.74 L657.94,330.22 L658.14,326.65 L658.34,323.02 L658.54,319.35 L658.74,315.62 L658.94,311.85 L659.14,308.03 L659.34,304.17 L659.54,300.26 L659.74,296.31 L659.94,292.33 L660.14,288.30 L660.34,284.24 L660.54,280.14 L660.74,276.02 L660.94,271.86 L661.14,267.67 L661.35,263.46 L661.55,259.22 L661.75,254.95 L661.95,250.67 L662.15,246.36 L662.35,242.04 L662.55,237.70 L662.75,233.34 L662.95,228.98 L663.15,224.60 L663.35,220.21 L663.55,215.82 L663.75,211.42" stroke="#DA420E" stroke-width="1.70" fill="none" stroke-linejoin="round"/>
<path d="M183.30,471.50V465.50M183.30,15.20V21.20M303.40,471.50V465.50M303.40,15.20V21.20M423.00,471.50V465.50M423.00,15.20V21.20M543.40,471.50V465.50M543.40,15.20V21.20M62.50,80.50H68.50M664.00,80.50H658.00M62.50,146.50H68.50M664.00,146.50H658.00M62.50,211.50H68.50M664.00,211.50H658.00M62.50,276.50H68.50M664.00,276.50H658.00M62.50,341.50H68.50M664.00,341.50H658.00M62.50,406.50H68.50M664.00,406.50H658.00" stroke="#262626" stroke-width="1.00" fill="none"/>
<path d="M57.20,342.01H67.80M62.50,336.31V347.71M58.50,338.01L66.50,346.01M58.50,346.01L66.50,338.01M117.33,342.01H127.92M122.62,336.31V347.71M118.62,338.01L126.62,346.01M118.62,346.01L126.62,338.01M177.45,342.01H188.05M182.75,336.31V347.71M178.75,338.01L186.75,346.01M178.75,346.01L186.75,338.01M237.57,342.01H248.18M242.88,336.31V347.71M238.88,338.01L246.88,346.01M238.88,346.01L246.88,338.01M297.70,342.01H308.30M303.00,336.31V347.71M299.00,338.01L307.00,346.01M299.00,346.01L307.00,338.01M357.82,342.01H368.43M363.12,336.31V347.71M359.12,338.01L367.12,346.01M359.12,346.01L367.12,338.01M417.95,342.01H428.55M423.25,336.31V347.71M419.25,338.01L427.25,346.01M419.25,346.01L427.25,338.01M478.07,342.01H488.68M483.38,336.31V347.71M479.38,338.01L487.38,346.01M479.38,346.01L487.38,338.01M538.20,342.01H548.80M543.50,336.31V347.71M539.50,338.01L547.50,346.01M539.50,346.01L547.50,338.01M598.33,342.01H608.92M603.62,336.31V347.71M599.62,338.01L607.62,346.01M599.62,346.01L607.62,338.01M658.45,342.01H669.05M663.75,336.31V347.71M659.75,338.01L667.75,346.01M659.75,346.01L667.75,338.01" stroke="#FF0000" stroke-width="1.80" fill="none"/>
<text transform="matrix(1.0484 0 0 1.0740 10.99 22.83)" font-size="27">250</text>
<text transform="matrix(1.0484 0 0 1.0740 10.99 88.38)" font-size="27">200</text>
<text transform="matrix(1.0622 0 0 1.0740 10.44 153.93)" font-size="27">150</text>
<text transform="matrix(1.0622 0 0 1.0740 10.44 218.88)" font-size="27">100</text>
<text transform="matrix(1.0857 0 0 1.0740 24.17 284.13)" font-size="27">50</text>
<text transform="matrix(1.0696 0 0 1.0740 39.03 349.23)" font-size="27">0</text>
<text transform="matrix(1.0647 0 0 1.0740 15.14 414.93)" font-size="27">-50</text>
<text transform="matrix(1.0568 0 0 1.0740 1.14 479.98)" font-size="27">-100</text>
<text transform="matrix(1.0870 0 0 1.0466 54.71 505.24)" font-size="27">0</text>
<text transform="matrix(1.0545 0 0 1.0466 168.68 505.24)" font-size="27">20</text>
<text transform="matrix(1.0176 0 0 1.0466 289.34 505.24)" font-size="27">40</text>
<text transform="matrix(1.0323 0 0 1.0466 409.51 505.24)" font-size="27">60</text>
<text transform="matrix(1.0280 0 0 1.0466 529.77 505.24)" font-size="27">80</text>
<text transform="matrix(1.0459 0 0 1.0466 642.49 505.24)" font-size="27">100</text>
<text transform="matrix(1.0270 0 0 0.9684 367.42 542.76)" font-size="30">s</text>
<path d="M344.9,524.3 C344.1,527.8 342.3,534.5 341.6,537.5 C341.0,540.6 341.8,542.4 343.2,542.4 C344.8,542.4 346.1,540.6 346.9,538.4" stroke="#000" stroke-width="1.75" fill="none" stroke-linecap="round"/>
<path d="M338.8,530.35H347.8" stroke="#000" stroke-width="1.2" fill="none"/>
<path d="M366.7,520.55H363.65V550.2H366.7M380.05,520.55H382.65V550.2H380.05" stroke="#000" stroke-width="1.35" fill="none"/>
<rect x="95.50" y="23.50" width="234.00" height="97.10" fill="#fff" stroke="#262626" stroke-width="1"/>
<path d="M100.9,42H157" stroke="#0072BD" stroke-width="2"/>
<path d="M100.9,72.1H157" stroke="#DA420E" stroke-width="2"/>
<path d="M123.00,103.50H133.60M128.30,97.80V109.20M124.30,99.50L132.30,107.50M124.30,107.50L132.30,99.50" stroke="#FF0000" stroke-width="1.80" fill="none"/>
<text transform="matrix(1.0157 0 0 0.9644 160.84 48.06)" font-size="25.6">Reference</text>
<text transform="matrix(1.0382 0 0 1.0267 161.44 77.95)" font-size="25.6">Approximation</text>
<text transform="matrix(1.0558 0 0 0.9500 160.91 109.06)" font-size="25.6">Macro discr.</text>
</svg></body></html>
